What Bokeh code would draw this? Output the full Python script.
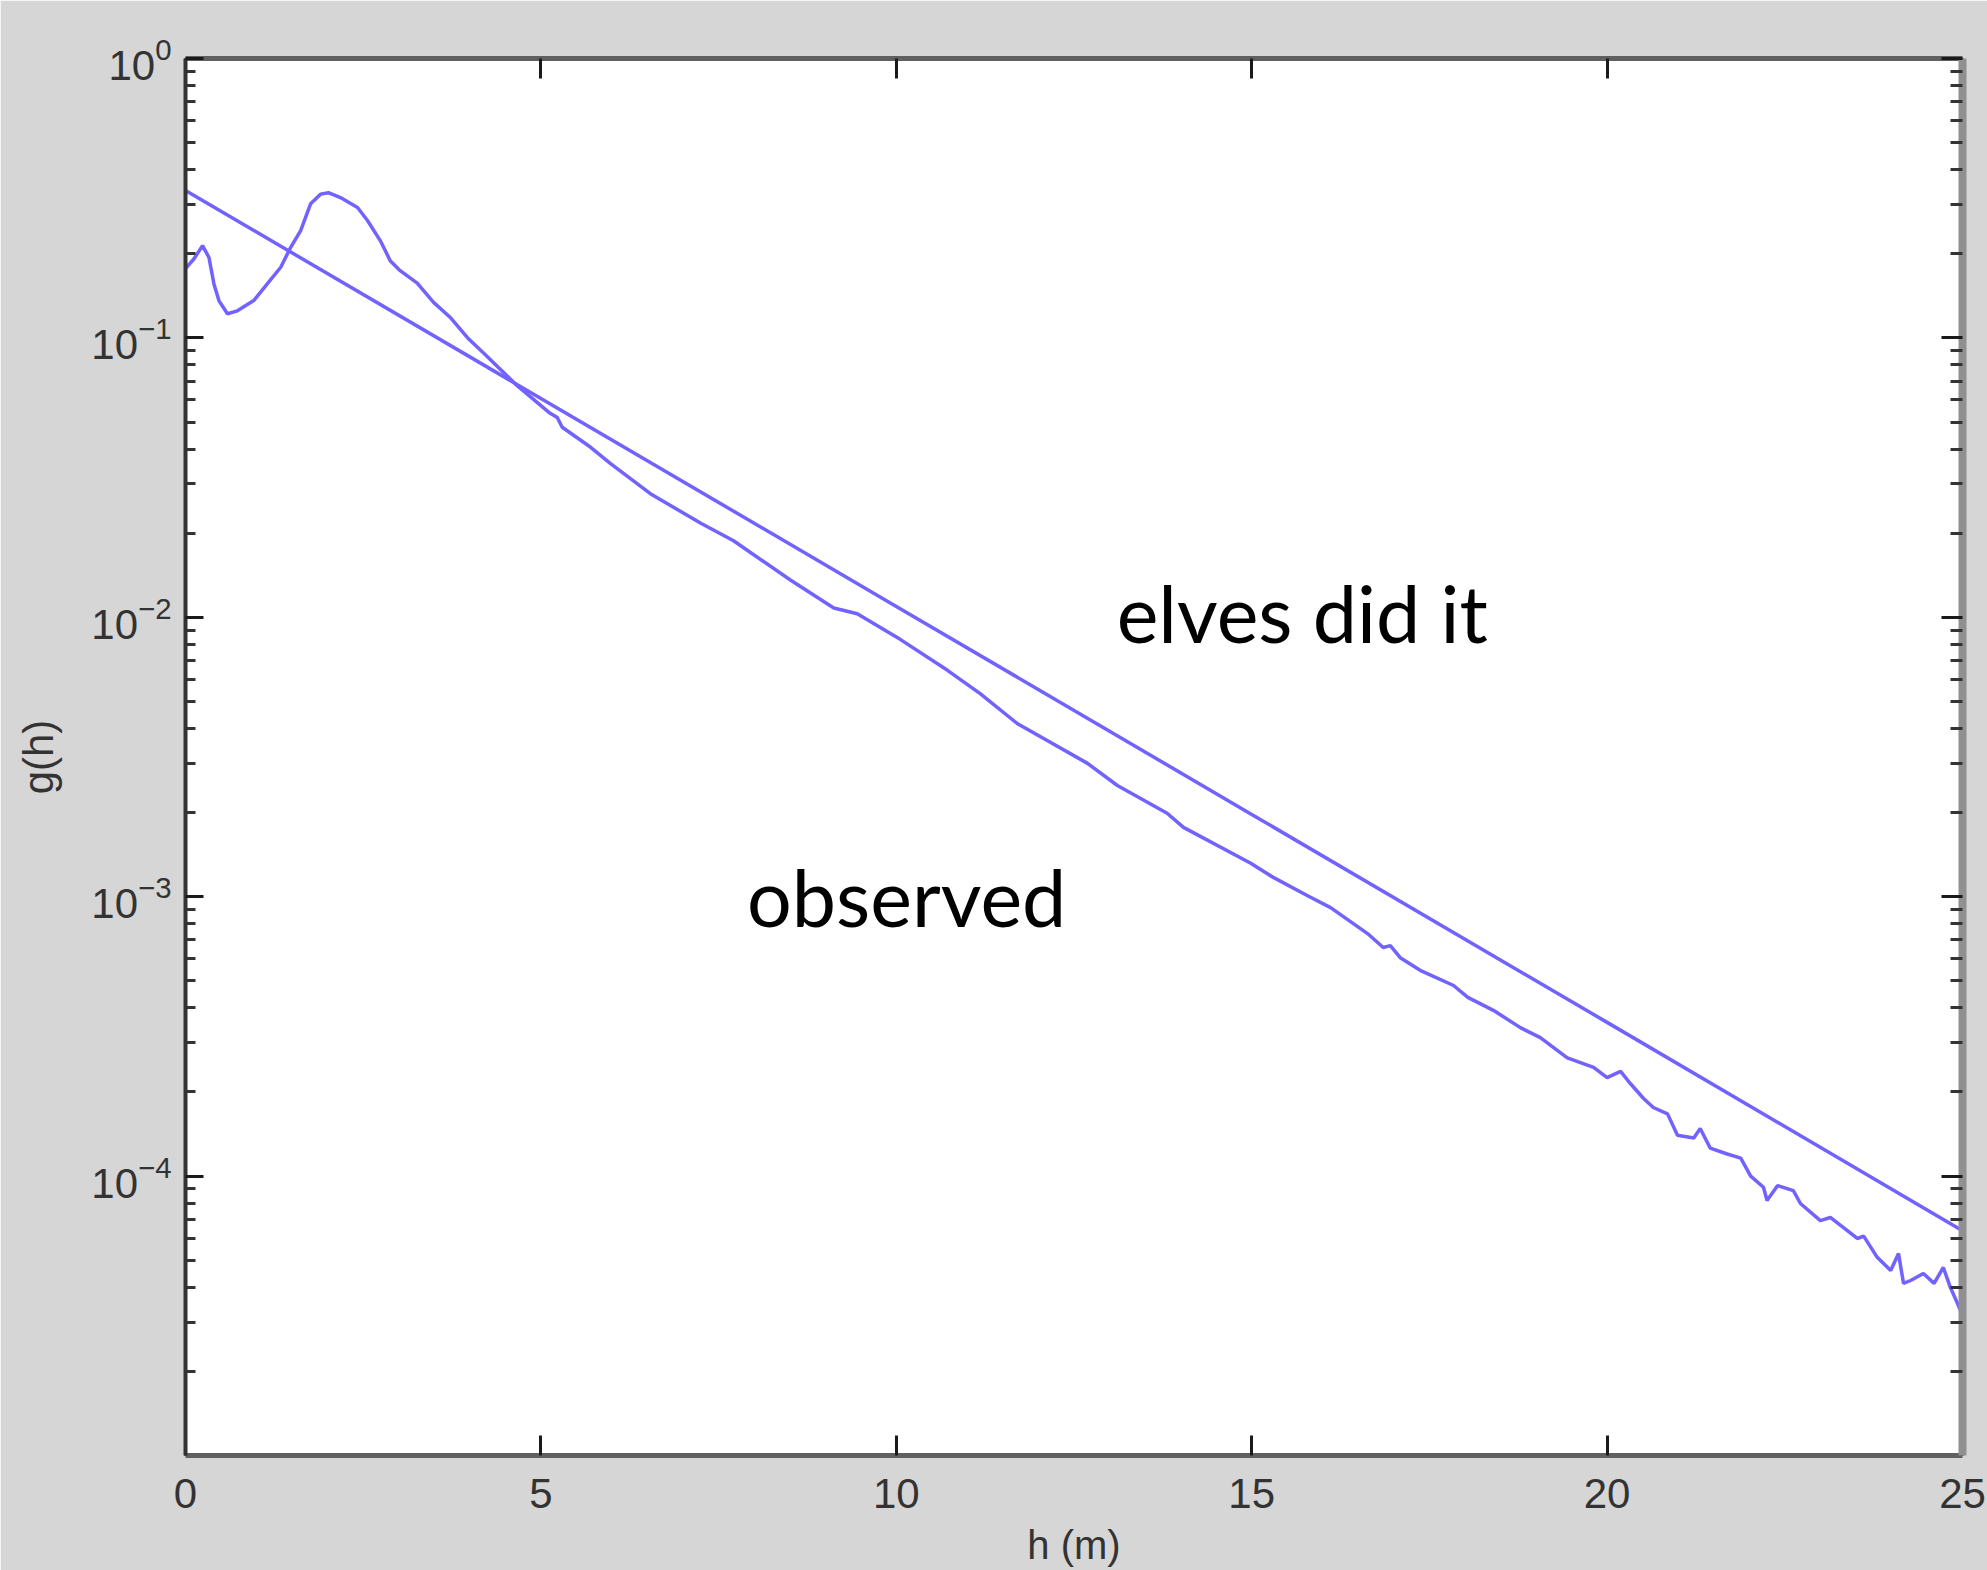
from bokeh.plotting import figure
from bokeh.models import (Range1d, FixedTicker, LinearAxis, LogAxis, LogTickFormatter,
                          CustomJSTickFormatter, ColumnDataSource)
from bokeh.core.properties import value
from bokeh.embed import file_html
from bokeh.resources import INLINE

# ---- data ----
obs_h = [0.0, 0.12, 0.24, 0.33, 0.40, 0.47, 0.59, 0.73, 0.96, 1.15, 1.34, 1.48, 1.62, 1.76,
         1.90, 2.01, 2.18, 2.42, 2.56, 2.74, 2.88, 3.02, 3.26, 3.49, 3.73, 3.97, 4.20, 4.67,
         5.13, 5.23, 5.30, 5.70, 5.98, 6.54, 7.25, 7.71, 8.51, 9.12, 9.45, 10.06, 10.72,
         11.18, 11.70, 12.69, 13.11, 13.81, 14.04, 14.98, 15.31, 15.78, 16.11, 16.63, 16.85,
         16.95, 17.09, 17.37, 17.84, 18.04, 18.40, 18.78, 19.06, 19.44, 19.81, 20.00, 20.19,
         20.33, 20.51, 20.65, 20.85, 20.99, 21.22, 21.31, 21.45, 21.69, 21.88, 22.02, 22.20,
         22.25, 22.40, 22.62, 22.72, 23.00, 23.14, 23.38, 23.52, 23.61, 23.80, 23.99, 24.10,
         24.17, 24.27, 24.45, 24.60, 24.73, 24.83, 24.93, 25.00]
obs_g = [0.177, 0.192, 0.214, 0.194, 0.156, 0.136, 0.122, 0.125, 0.136, 0.156, 0.179, 0.211,
         0.242, 0.302, 0.327, 0.331, 0.318, 0.293, 0.263, 0.223, 0.189, 0.174, 0.157, 0.134,
         0.118, 0.100, 0.0879, 0.0673, 0.0537, 0.0519, 0.0479, 0.0406, 0.0355, 0.0277,
         0.0217, 0.0188, 0.0136, 0.0108, 0.0103, 0.00832, 0.00646, 0.00533, 0.00417,
         0.00300, 0.00250, 0.00199, 0.00177, 0.00132, 0.00117, 0.00101, 0.000914, 0.000738,
         0.000658, 0.000668, 0.000605, 0.000545, 0.000481, 0.000436, 0.000392, 0.000340,
         0.000313, 0.000265, 0.000245, 0.000225, 0.000237, 0.000214, 0.000190, 0.000176,
         0.000167, 0.000140, 0.000137, 0.000148, 0.000126, 0.000120, 0.000116, 0.000100,
         9.12e-5, 8.18e-5, 9.25e-5, 8.87e-5, 7.98e-5, 6.93e-5, 7.11e-5, 6.38e-5, 5.98e-5,
         6.10e-5, 5.12e-5, 4.59e-5, 5.28e-5, 4.13e-5, 4.23e-5, 4.48e-5, 4.13e-5, 4.71e-5,
         3.99e-5, 3.50e-5, 3.17e-5]

model_h = [0, 5, 10, 15, 20, 25]
model_g = [0.337, 0.0607, 0.01094, 0.00197, 0.000355, 6.38e-5]

label_text = ["elves did it", "observed"]
label_h = [13.1, 7.9]
label_g = [1.04e-2, 1.0e-3]

x_ticks = [0, 5, 10, 15, 20, 25]
y_major = [1e-4, 1e-3, 1e-2, 1e-1, 1.0]
y_minor = [k * 10.0 ** e for e in range(-5, 0) for k in range(2, 10)]

# ---- figure ----
BG = "#d6d6d6"
LINE = "#7262ff"
TICKFONT = "Liberation Sans"

p = figure(width=1987, height=1570, y_axis_type="log",
           x_range=Range1d(0, 25), y_range=Range1d(1e-5, 1),
           output_backend="svg", toolbar_location=None,
           min_border_left=185, min_border_right=25,
           min_border_top=58, min_border_bottom=115)
p.background_fill_color = "white"
p.border_fill_color = BG
p.outline_line_color = None
p.grid.visible = False

def style_ticks(ax, major_in, minor_in):
    ax.major_tick_in = major_in
    ax.major_tick_out = 0
    ax.minor_tick_in = minor_in
    ax.minor_tick_out = 0
    ax.major_tick_line_color = "#1a1a1a"
    ax.minor_tick_line_color = "#333333"
    ax.major_tick_line_width = 3
    ax.minor_tick_line_width = 3

# bottom axis
xa = p.xaxis[0]
xa.ticker = FixedTicker(ticks=x_ticks)
style_ticks(xa, 20, 0)
xa.axis_line_color = "#606060"
xa.axis_line_width = 5
xa.major_label_text_font = TICKFONT
xa.major_label_text_font_size = "42px"
xa.major_label_text_color = "#333333"
xa.major_label_standoff = 23
xa.axis_label = "h (m)"
xa.axis_label_text_font = "Liberation Sans"
xa.axis_label_text_font_style = "normal"
xa.axis_label_text_font_size = "40px"
xa.axis_label_text_color = "#333333"
xa.axis_label_standoff = 12

# left axis
ya = p.yaxis[0]
ya.ticker = FixedTicker(ticks=y_major, minor_ticks=y_minor)
ya.formatter = LogTickFormatter()
style_ticks(ya, 18, 10)
ya.axis_line_color = "#333333"
ya.axis_line_width = 4
ya.major_label_text_font = TICKFONT
ya.major_label_text_font_size = "42px"
ya.major_label_text_color = "#333333"
ya.major_label_standoff = 14
ya.axis_label = "g(h)"
ya.axis_label_text_font = "Liberation Sans"
ya.axis_label_text_font_style = "normal"
ya.axis_label_text_font_size = "42px"
ya.axis_label_text_color = "#333333"
ya.axis_label_standoff = 26

top = LinearAxis(ticker=FixedTicker(ticks=x_ticks),
                 formatter=CustomJSTickFormatter(code="return ''"),
                 axis_line_color="#606060", axis_line_width=5, major_label_standoff=0)
style_ticks(top, 20, 0)
p.add_layout(top, "above")

right = LogAxis(ticker=FixedTicker(ticks=y_major, minor_ticks=y_minor),
                formatter=CustomJSTickFormatter(code="return ''"),
                axis_line_color="#909090", axis_line_width=8, major_label_standoff=0)
style_ticks(right, 21, 12)
p.add_layout(right, "right")

# curves
p.line(model_h, model_g, line_color=LINE, line_width=3.5)
p.line(obs_h, obs_g, line_color=LINE, line_width=3.5)

# annotations
src = ColumnDataSource(dict(x=label_h, y=label_g, text=label_text))
p.text(x="x", y="y", text="text", source=src, text_font=value("Lato"),
       text_font_size="79px", text_color="black", text_align="left",
       text_baseline="alphabetic")

html = file_html(p, INLINE)
html = html.replace("<body>", '<body style="background:%s">' % BG, 1)
open("out.html", "w").write(html)
